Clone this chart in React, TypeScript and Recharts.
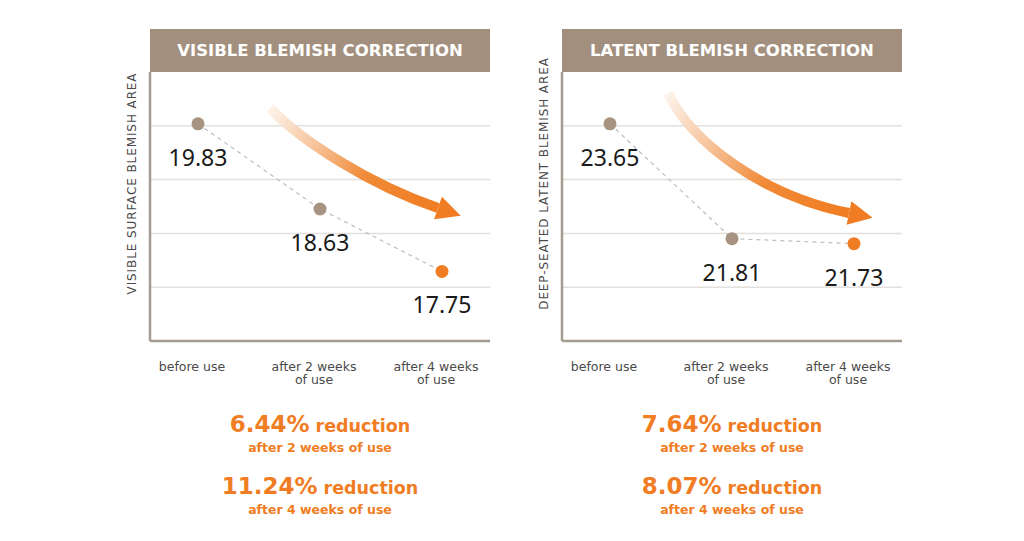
import React from 'react';
import { LineChart, Line, XAxis, YAxis, ReferenceLine, LabelList } from 'recharts';

const categories = ['before use', 'after 2 weeks of use', 'after 4 weeks of use'];
const tickLines = [['before use'], ['after 2 weeks', 'of use'], ['after 4 weeks', 'of use']];
const visibleValues = [19.83, 18.63, 17.75];
const latentValues = [23.65, 21.81, 21.73];
const visibleDomain = [16.77, 20.56];
const latentDomain = [20.17, 24.48];
const titles = ['VISIBLE BLEMISH CORRECTION', 'LATENT BLEMISH CORRECTION'];
const axisLabels = ['VISIBLE SURFACE BLEMISH AREA', 'DEEP-SEATED LATENT BLEMISH AREA'];
const visibleReductions = ['6.44%', '11.24%'];
const latentReductions = ['7.64%', '8.07%'];
const reductionPeriods = ['after 2 weeks of use', 'after 4 weeks of use'];

const ORANGE = '#f07d23';
const TAUPE = '#a69382';
const HEADER = '#a38f7e';
const AXIS = '#a59b91';
const GRID = '#e4e0dc';
const WIDE = '"DejaVu Sans", sans-serif';

type PanelProps = {
  plotLeft: number;
  values: number[];
  domain: number[];
  title: string;
  axisLabel: string;
  reductions: string[];
};

function Panel({ plotLeft, values, domain, title, axisLabel, reductions }: PanelProps) {
  const data = categories.map((c, i) => ({ name: c, value: values[i] }));
  const step = (domain[1] - domain[0]) / 5;
  const ticks = [1, 2, 3, 4].map((k) => domain[0] + step * k);
  const chartLeft = plotLeft - 31;
  const centerX = plotLeft + 170;
  return (
    <>
      <div
        style={{
          position: 'absolute',
          left: plotLeft,
          top: 29,
          width: 340,
          height: 43,
          background: HEADER,
          color: '#fff',
          fontFamily: WIDE,
          fontWeight: 700,
          fontSize: 16.5,
          lineHeight: '43px',
          textAlign: 'center',
          whiteSpace: 'nowrap',
        }}
      >
        {title}
      </div>
      <div style={{ position: 'absolute', left: chartLeft, top: 20 }}>
        <LineChart width={380} height={370} data={data} margin={{ top: 52, right: 9, left: 30, bottom: 0 }}>
          <XAxis
            dataKey="name"
            height={49}
            padding={{ left: 48, right: 48 }}
            axisLine={{ stroke: AXIS, strokeWidth: 2.5 }}
            tickLine={false}
            tickSize={0}
            tick={(p: any) => (
              <text
                x={p.x - 6}
                y={p.y}
                textAnchor="middle"
                fontFamily={WIDE}
                fontSize={12.5}
                fill="#4a4a4a"
              >
                {tickLines[p.index].map((t, i) => (
                  <tspan key={i} x={p.x - 6} dy={i === 0 ? 27.5 : 13}>
                    {t}
                  </tspan>
                ))}
              </text>
            )}
            interval={0}
          />
          <YAxis
            width={1}
            domain={domain}
            ticks={ticks}
            tick={false}
            tickLine={false}
            axisLine={{ stroke: AXIS, strokeWidth: 2.5 }}
            label={{
              content: (p: any) => {
                const vb = p.viewBox;
                const cx = vb.x + vb.width - 18;
                const cy = vb.y + vb.height / 2 - 23;
                return (
                  <text
                    x={cx}
                    y={cy}
                    transform={`rotate(-90 ${cx} ${cy})`}
                    textAnchor="middle"
                    dominantBaseline="central"
                    fontFamily={WIDE}
                    fontSize={12}
                    letterSpacing={0.9}
                    fill="#4a4a4a"
                  >
                    {axisLabel}
                  </text>
                );
              },
            }}
          />
          {ticks.map((t, i) => (
            <ReferenceLine key={i} y={t} stroke={GRID} strokeWidth={1.5} />
          ))}
          <Line
            dataKey="value"
            type="linear"
            stroke="#bdbdbd"
            strokeWidth={1.2}
            strokeDasharray="4 4"
            isAnimationActive={false}
            dot={(p: any) => (
              <circle
                key={p.index}
                cx={p.cx}
                cy={p.cy}
                r={6.5}
                fill={p.index === values.length - 1 ? ORANGE : TAUPE}
              />
            )}
            activeDot={false}
          >
            <LabelList
              dataKey="value"
              content={(p: any) => (
                <text
                  x={p.x}
                  y={p.y + 33}
                  textAnchor="middle"
                  dominantBaseline="central"
                  fontFamily='"Noto Sans", sans-serif'
                  fontSize={23}
                  fill="#1a1a1a"
                >
                  {Number(p.value).toFixed(2)}
                </text>
              )}
            />
          </Line>
        </LineChart>
      </div>
      {reductions.map((r, i) => (
        <div
          key={i}
          style={{
            position: 'absolute',
            left: centerX - 150,
            width: 300,
            top: 409 + i * 62,
            textAlign: 'center',
            color: ORANGE,
            fontFamily: WIDE,
            fontWeight: 700,
          }}
        >
          <div style={{ lineHeight: '30px', whiteSpace: 'nowrap' }}>
            <span style={{ fontSize: 23 }}>{r}</span>
            <span style={{ fontSize: 17.5 }}> reduction</span>
          </div>
          <div style={{ fontSize: 12.5, lineHeight: '12px' }}>{reductionPeriods[i]}</div>
        </div>
      ))}
    </>
  );
}

function Arrow({ id, d, sx, sy, ex, ey, angle }: any) {
  const rad = (angle * Math.PI) / 180;
  const c = Math.cos(rad);
  const s = Math.sin(rad);
  const tip = [ex + 24 * c, ey + 24 * s];
  const a = [ex + 12 * s, ey - 12 * c];
  const b = [ex - 12 * s, ey + 12 * c];
  return (
    <g>
      <defs>
        <linearGradient id={id} gradientUnits="userSpaceOnUse" x1={sx} y1={sy} x2={ex} y2={ey}>
          <stop offset="0%" stopColor="#fdf3ea" />
          <stop offset="30%" stopColor="#f6c299" />
          <stop offset="60%" stopColor="#f08a36" />
          <stop offset="100%" stopColor={ORANGE} />
        </linearGradient>
      </defs>
      <path d={d} fill="none" stroke={`url(#${id})`} strokeWidth={10} />
      <polygon points={`${tip[0]},${tip[1]} ${a[0]},${a[1]} ${b[0]},${b[1]}`} fill={ORANGE} />
    </g>
  );
}

export default function App() {
  return (
    <div
      style={{
        position: 'absolute',
        left: 0,
        top: 0,
        width: 1024,
        height: 541,
        background: '#fff',
        overflow: 'hidden',
      }}
    >
      <Panel
        plotLeft={150}
        values={visibleValues}
        domain={visibleDomain}
        title={titles[0]}
        axisLabel={axisLabels[0]}
        reductions={visibleReductions}
      />
      <Panel
        plotLeft={562}
        values={latentValues}
        domain={latentDomain}
        title={titles[1]}
        axisLabel={axisLabels[1]}
        reductions={latentReductions}
      />
      <svg
        width={1024}
        height={541}
        style={{ position: 'absolute', left: 0, top: 0, pointerEvents: 'none' }}
      >
        <Arrow id="g1" d="M270 108 C300 140 370 185 438 208" sx={270} sy={108} ex={438} ey={208} angle={19} />
        <Arrow id="g2" d="M668 93 C690 140 760 195 849 213" sx={668} sy={93} ex={849} ey={213} angle={11.5} />
      </svg>
    </div>
  );
}
